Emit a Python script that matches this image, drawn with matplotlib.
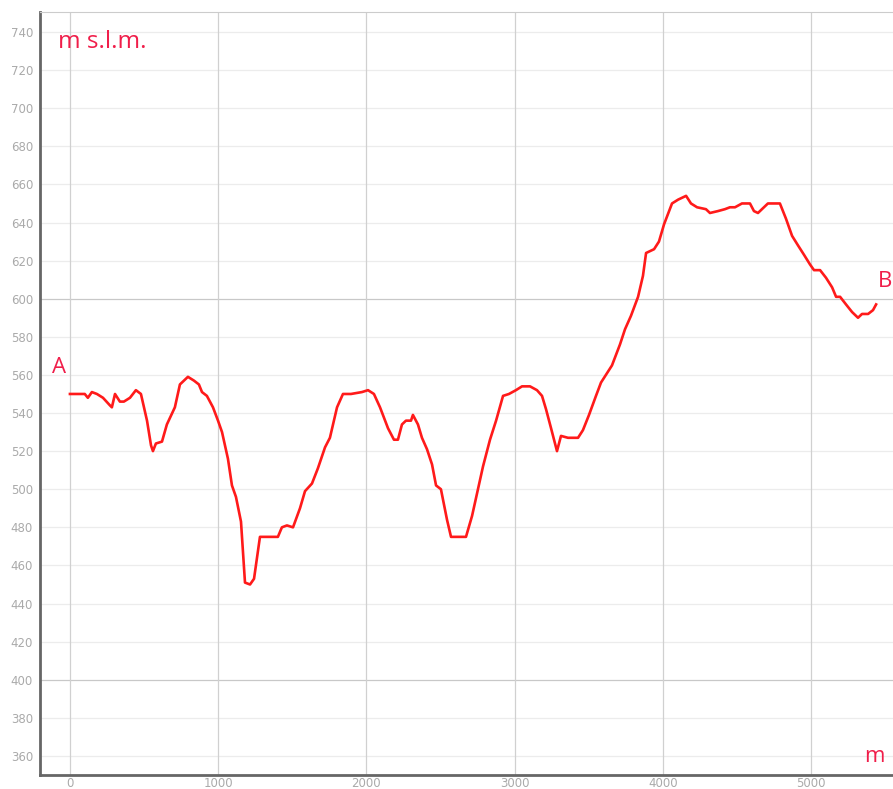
import numpy as np
import matplotlib.pyplot as plt

# profilo altimetrico: distanza (m) e quota (m s.l.m.)
dist = [0, 100, 121, 148, 182, 223, 270, 283, 304, 337, 364, 405, 445, 479,
        520, 547, 560, 580, 621, 654, 708, 742, 796, 837, 870, 891, 924, 965,
        999, 1026, 1066, 1093, 1120, 1154, 1181, 1215, 1242, 1282, 1403, 1430,
        1464, 1505, 1552, 1586, 1633, 1673, 1721, 1754, 1802, 1842, 1896, 1970,
        2011, 2051, 2092, 2146, 2186, 2213, 2240, 2267, 2301, 2314, 2348, 2375,
        2409, 2443, 2470, 2503, 2544, 2571, 2625, 2672, 2713, 2753, 2787, 2834,
        2875, 2922, 2962, 3009, 3050, 3104, 3151, 3185, 3212, 3246, 3286, 3313,
        3360, 3428, 3461, 3502, 3549, 3583, 3657, 3711, 3745, 3785, 3833, 3866,
        3887, 3941, 3974, 4008, 4062, 4103, 4157, 4190, 4231, 4291, 4318, 4372,
        4419, 4453, 4487, 4534, 4588, 4615, 4642, 4682, 4709, 4790, 4831, 4872,
        4912, 4953, 4993, 5020, 5061, 5101, 5142, 5169, 5196, 5236, 5277, 5317,
        5344, 5385, 5418, 5439]
quota = [550, 550, 548, 551, 550, 548, 544, 543, 550, 546, 546, 548, 552, 550,
         536, 523, 520, 524, 525, 534, 543, 555, 559, 557, 555, 551, 549, 543,
         536, 530, 516, 502, 496, 483, 451, 450, 453, 475, 475, 480,
         481, 480, 490, 499, 503, 511, 522, 527, 543, 550, 550, 551,
         552, 550, 543, 532, 526, 526, 534, 536, 536, 539, 534, 527,
         521, 513, 502, 500, 484, 475, 475, 475, 486, 500, 512, 526,
         536, 549, 550, 552, 554, 554, 552, 549, 542, 532, 520, 528,
         527, 527, 531, 539, 549, 556, 565, 576, 584, 591, 601, 612,
         624, 626, 630, 639, 650, 652, 654, 650, 648, 647, 645, 646,
         647, 648, 648, 650, 650, 646, 645, 648, 650, 650, 642, 633,
         628, 623, 618, 615, 615, 611, 606, 601, 601, 597, 593, 590,
         592, 592, 594, 597]

xticks = [0, 1000, 2000, 3000, 4000, 5000]
yticks = list(range(360, 741, 20))

rosso = '#ff1a1a'
testo = '#f01e4a'

fig = plt.figure(figsize=(8.93, 7.89), dpi=100)
ax = fig.add_axes([40/893, 14/789, 853/893, 763/789])

ax.plot(dist, quota, color=rosso, lw=1.9, solid_joinstyle='round')

ax.set_xlim(-202, 5553)
ax.set_ylim(350, 750.5)
ax.set_xticks(xticks)
ax.set_yticks(yticks)
ax.tick_params(axis='y', length=0, labelsize=8.5, labelcolor='#aaaaaa', pad=5)
ax.tick_params(axis='x', length=0, labelsize=8.5, labelcolor='#aaaaaa', pad=1.5)

# griglia: linee ogni 200 m più scure
for y in yticks:
    c = '#c8c8c8' if y % 200 == 0 else '#ececec'
    ax.axhline(y, color=c, lw=0.9, zorder=0)
for x in xticks:
    ax.axvline(x, color='#d0d0d0', lw=0.9, zorder=0)

for s in ['left', 'bottom']:
    ax.spines[s].set_color('#666666')
    ax.spines[s].set_linewidth(2)
ax.spines['top'].set_color('#cccccc')
ax.spines['top'].set_linewidth(0.8)
ax.spines['right'].set_visible(False)

ax.text(0.021, 0.977, 'm s.l.m.', transform=ax.transAxes, color=testo,
        fontsize=17.5, family='Open Sans', va='top', ha='left')
ax.text(-120, 564, 'A', color=testo, fontsize=16, family='Open Sans',
        va='center', ha='left')
ax.text(5545, 609, 'B', color=testo, fontsize=16, family='Open Sans',
        va='center', ha='right')
ax.text(0.99, 0.01, 'm', transform=ax.transAxes, color=testo,
        fontsize=16, family='Open Sans', va='bottom', ha='right')

fig.savefig('out.png', dpi=100)
